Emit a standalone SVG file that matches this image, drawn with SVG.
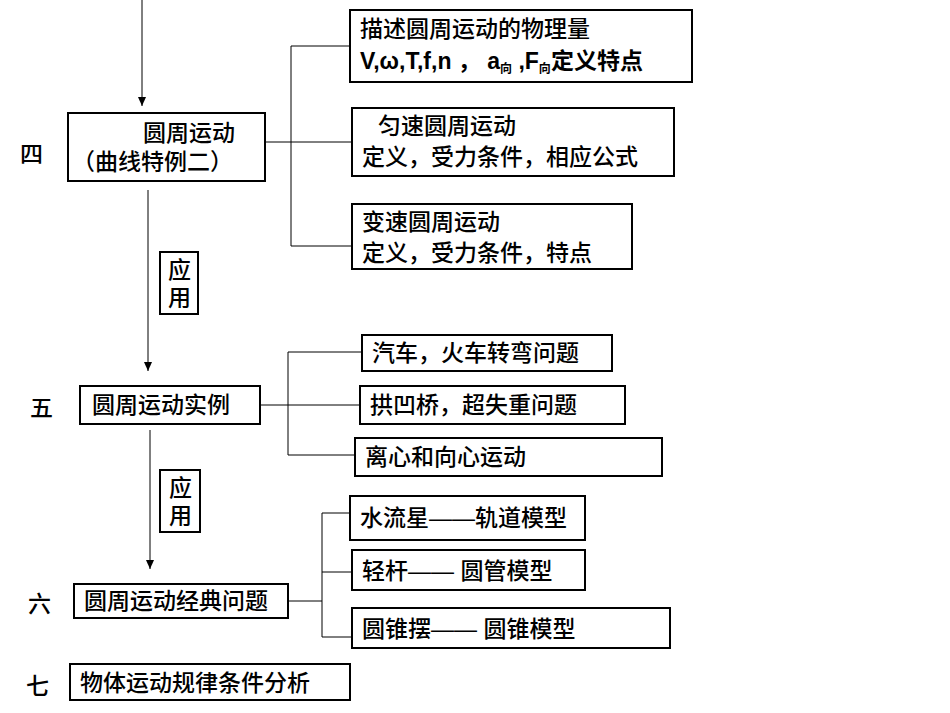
<svg xmlns="http://www.w3.org/2000/svg" width="950" height="713" viewBox="0 0 950 713">
<style>
.b{fill:#fff;stroke:#000;stroke-width:2}
.l{stroke:#000;stroke-width:1;fill:none}
text{font-family:"Liberation Sans","Noto Sans CJK SC",sans-serif;font-size:23px;fill:#000;font-weight:500}
.s{font-size:12px}
.bd{font-weight:bold}
</style>
<defs><marker id="a" markerWidth="10" markerHeight="10" refX="9" refY="5" orient="auto" markerUnits="userSpaceOnUse"><path d="M0,1 L9,5 L0,9 Z" fill="#000"/></marker></defs>
<rect width="950" height="713" fill="#fff"/>
<g id="connectors">
<line class="l" x1="142" y1="0" x2="142" y2="106" marker-end="url(#a)"/>
<line class="l" x1="148" y1="190" x2="148" y2="371" marker-end="url(#a)"/>
<line class="l" x1="150" y1="430" x2="150" y2="569" marker-end="url(#a)"/>
<polyline class="l" points="350,46 291,46 291,246 352,246"/>
<line class="l" x1="265" y1="142" x2="352" y2="142"/>
<polyline class="l" points="362,352 288,352 288,455 355,455"/>
<line class="l" x1="260" y1="405" x2="360" y2="405"/>
<polyline class="l" points="350,513 322,513 322,637 352,637"/>
<line class="l" x1="322" y1="572" x2="352" y2="572"/>
<line class="l" x1="288" y1="601" x2="322" y2="601"/>
</g>
<g id="n1"><rect class="b" x="350" y="10" width="342" height="72"/><text x="360" y="37">描述圆周运动的物理量</text><text x="360" y="69" class="bd">V,ω,T,f,n ， a<tspan class="s" dy="4">向</tspan><tspan dy="-4"> ,F</tspan><tspan class="s" dy="4">向</tspan><tspan dy="-4">定义特点</tspan></text></g>
<g id="n2"><rect class="b" x="352" y="108" width="322" height="68"/><text x="378" y="134">匀速圆周运动</text><text x="362" y="165">定义，受力条件，相应公式</text></g>
<g id="n3"><rect class="b" x="352" y="204" width="280" height="65"/><text x="362" y="230">变速圆周运动</text><text x="362" y="261">定义，受力条件，特点</text></g>
<g id="n4"><text x="20" y="162">四</text><rect class="b" x="68" y="113" width="197" height="68"/><text x="143" y="141">圆周运动</text><text x="72" y="170">（曲线特例二）</text></g>
<g id="y1"><rect class="b" x="160" y="252" width="38" height="62"/><text x="168" y="278">应</text><text x="168" y="306">用</text></g>
<g id="n5"><text x="30" y="416">五</text><rect class="b" x="80" y="386" width="180" height="38"/><text x="92" y="413">圆周运动实例</text></g>
<g id="n6"><rect class="b" x="362" y="335" width="250" height="36"/><text x="372" y="361">汽车，火车转弯问题</text></g>
<g id="n7"><rect class="b" x="360" y="386" width="265" height="38"/><text x="370" y="413">拱凹桥，超失重问题</text></g>
<g id="n8"><rect class="b" x="355" y="438" width="307" height="38"/><text x="365" y="465">离心和向心运动</text></g>
<g id="y2"><rect class="b" x="160" y="470" width="40" height="62"/><text x="169" y="496">应</text><text x="169" y="524">用</text></g>
<g id="n9"><text x="28" y="612">六</text><rect class="b" x="74" y="584" width="214" height="34"/><text x="84" y="609">圆周运动经典问题</text></g>
<g id="n10"><rect class="b" x="350" y="496" width="235" height="44"/><text x="360" y="526">水流星——轨道模型</text></g>
<g id="n11"><rect class="b" x="352" y="550" width="233" height="40"/><text x="362" y="579">轻杆——  圆管模型</text></g>
<g id="n12"><rect class="b" x="352" y="608" width="318" height="40"/><text x="362" y="637">圆锥摆——  圆锥模型</text></g>
<g id="n13"><text x="26" y="694">七</text><rect class="b" x="70" y="664" width="280" height="36"/><text x="80" y="691">物体运动规律条件分析</text></g>
</svg>
